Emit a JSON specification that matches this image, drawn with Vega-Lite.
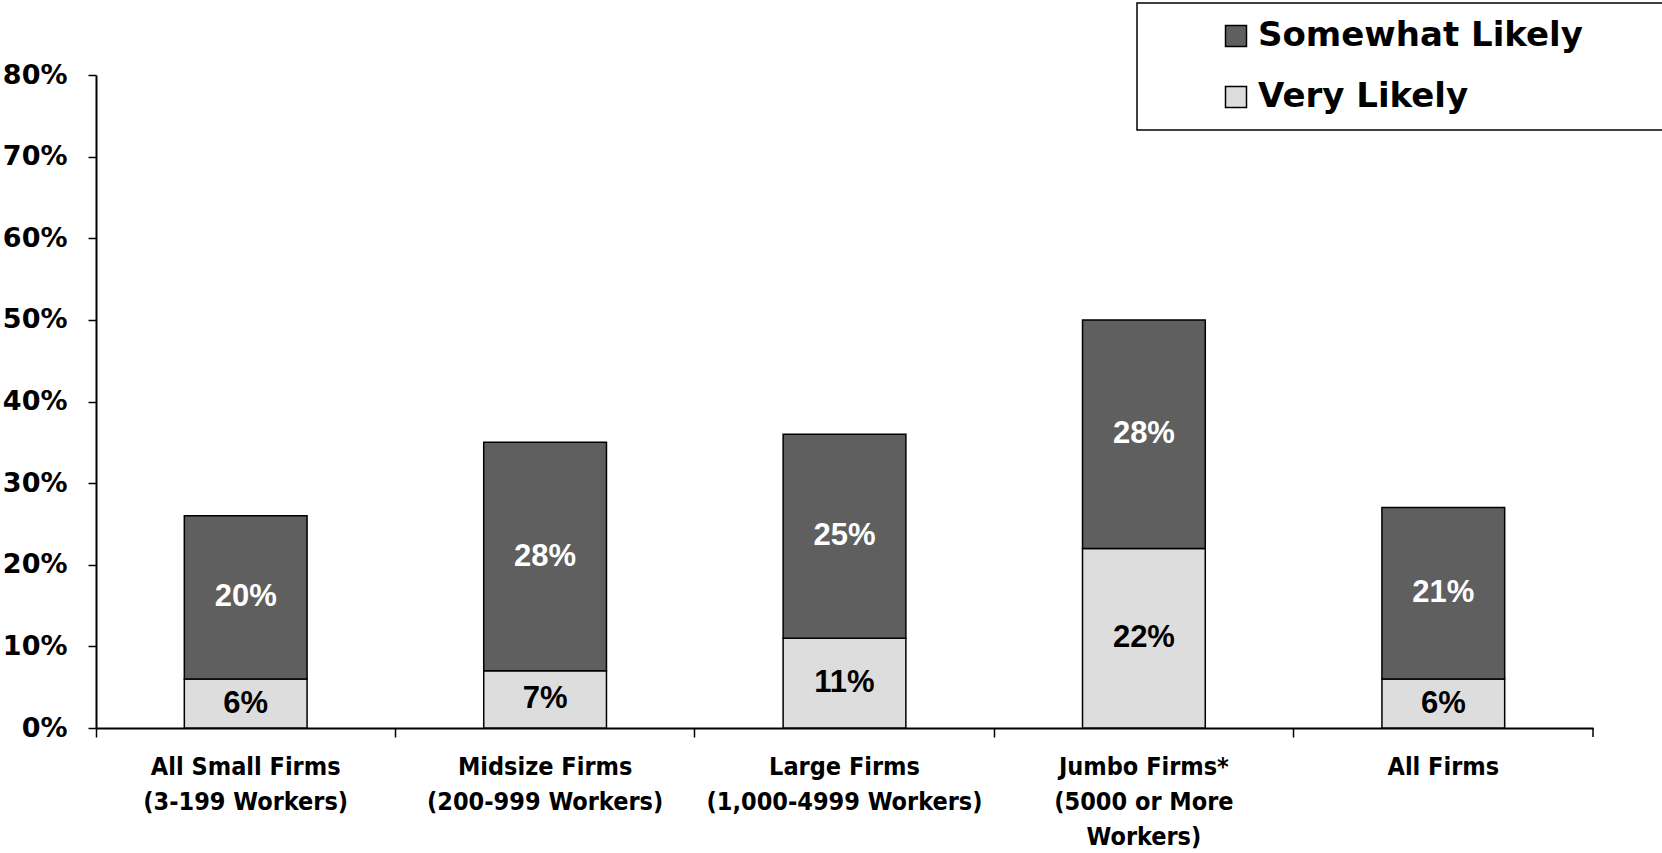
{
  "$schema": "https://vega.github.io/schema/vega-lite/v6.json",
  "width": 1497,
  "height": 653,
  "autosize": "none",
  "padding": {"left": 96, "top": 75, "right": 69, "bottom": 125},
  "background": "white",
  "data": {
    "values": [
      {"cat": "All Small Firms|(3-199 Workers)", "series": "Very Likely", "value": 0.06},
      {"cat": "All Small Firms|(3-199 Workers)", "series": "Somewhat Likely", "value": 0.20},
      {"cat": "Midsize Firms|(200-999 Workers)", "series": "Very Likely", "value": 0.07},
      {"cat": "Midsize Firms|(200-999 Workers)", "series": "Somewhat Likely", "value": 0.28},
      {"cat": "Large Firms|(1,000-4999 Workers)", "series": "Very Likely", "value": 0.11},
      {"cat": "Large Firms|(1,000-4999 Workers)", "series": "Somewhat Likely", "value": 0.25},
      {"cat": "Jumbo Firms*|(5000 or More|Workers)", "series": "Very Likely", "value": 0.22},
      {"cat": "Jumbo Firms*|(5000 or More|Workers)", "series": "Somewhat Likely", "value": 0.28},
      {"cat": "All Firms", "series": "Very Likely", "value": 0.06},
      {"cat": "All Firms", "series": "Somewhat Likely", "value": 0.21}
    ]
  },
  "transform": [
    {"stack": "value", "groupby": ["cat"], "sort": [{"field": "series", "order": "descending"}], "as": ["v0", "v1"]},
    {"calculate": "(datum.v0 + datum.v1) / 2", "as": "mid"}
  ],
  "layer": [
    {
      "mark": {"type": "bar", "width": {"band": 0.41}, "stroke": "black", "strokeWidth": 1.5},
      "encoding": {
        "x": {
          "field": "cat", "type": "nominal", "sort": null,
          "scale": {"paddingInner": 0, "paddingOuter": 0},
          "axis": {
            "title": null, "labelAngle": 0, "bandPosition": 0, "labelOffset": 0,
            "labelExpr": "split(datum.label, '|')", "labelLimit": 0,
            "labelFont": "DejaVu Sans Condensed", "labelFontWeight": "bold", "labelFontSize": 25,
            "labelLineHeight": 35, "labelPadding": 17, "labelColor": "black",
            "tickSize": 9, "tickColor": "black", "tickWidth": 1.5,
            "domainColor": "black", "domainWidth": 2
          }
        },
        "y": {
          "field": "v0", "type": "quantitative",
          "scale": {"domain": [0, 0.8], "nice": false},
          "axis": {
            "title": null, "values": [0, 0.1, 0.2, 0.3, 0.4, 0.5, 0.6, 0.7, 0.8], "format": ".0%",
            "grid": false, "labelFont": "DejaVu Sans", "labelFontWeight": "bold", "labelFontSize": 27,
            "labelColor": "black", "labelPadding": 21,
            "tickSize": 8, "tickColor": "black", "tickWidth": 1.5,
            "domainColor": "black", "domainWidth": 2
          }
        },
        "y2": {"field": "v1"},
        "color": {
          "field": "series", "type": "nominal",
          "scale": {"domain": ["Somewhat Likely", "Very Likely"], "range": ["#5f5f5f", "#dddddd"]},
          "legend": {
            "title": null, "orient": "none", "legendX": 1041, "legendY": -72,
            "labelExpr": "datum.label + '\u2800\u2800\u2800'",
            "symbolType": "square", "symbolSize": 441, "symbolStrokeColor": "black", "symbolStrokeWidth": 1.5,
            "symbolOffset": 66, "labelOffset": 5,
            "labelFont": "DejaVu Sans", "labelFontWeight": "bold", "labelFontSize": 34, "labelColor": "black",
            "labelLimit": 1000, "rowPadding": 27, "padding": 16,
            "strokeColor": "black"
          }
        }
      }
    },
    {
      "mark": {"type": "text", "font": "Liberation Sans", "fontWeight": "bold", "fontSize": 31, "baseline": "middle", "align": "center"},
      "encoding": {
        "x": {"field": "cat", "type": "nominal", "sort": null},
        "y": {"field": "mid", "type": "quantitative"},
        "text": {"field": "value", "type": "quantitative", "format": ".0%"},
        "color": {"condition": {"test": "datum.series == 'Somewhat Likely'", "value": "white"}, "value": "black"}
      }
    },
    {
      "data": {"values": [{}]},
      "mark": {"type": "rule", "color": "black", "strokeWidth": 1.5},
      "encoding": {
        "x": {"datum": "All Firms", "bandPosition": 1},
        "y": {"datum": 0},
        "y2": {"datum": -0.011}
      }
    }
  ],
  "config": {
    "view": {"stroke": null},
    "legend": {"strokeWidth": 1.5}
  }
}
